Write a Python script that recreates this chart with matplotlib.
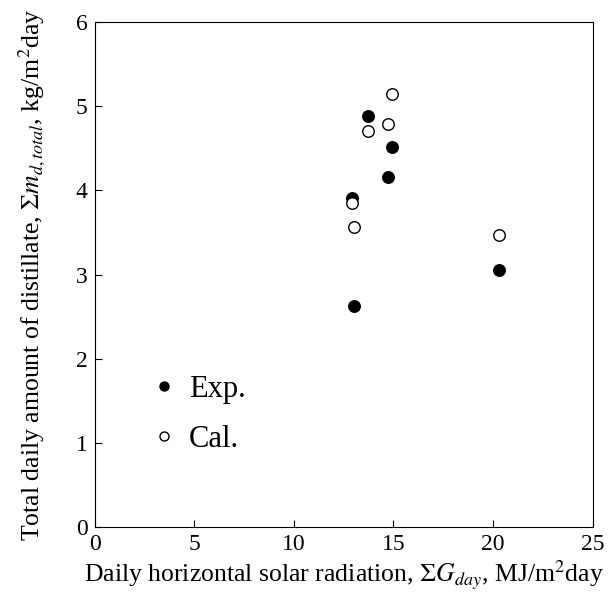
import matplotlib
matplotlib.use('Agg')
import matplotlib.pyplot as plt

plt.rcParams['font.family'] = ['Liberation Serif', 'DejaVu Serif']
plt.rcParams['mathtext.fontset'] = 'stix'

# experimental values
exp_x = [13.72, 14.94, 14.74, 12.92, 13.0, 20.28]
exp_y = [4.88, 4.51, 4.16, 3.91, 2.63, 3.05]
# calculated values
cal_x = [14.91, 14.71, 13.72, 12.92, 13.0, 20.28]
cal_y = [5.15, 4.79, 4.71, 3.85, 3.56, 3.47]

fig = plt.figure(figsize=(6.09, 5.96), dpi=100)
ax = fig.add_axes([0.1555, 0.1158, 0.8175, 0.8472])

ax.plot(exp_x, exp_y, 'o', color='black', markersize=8.3, label='Exp.')
ax.plot(cal_x, cal_y, 'o', markerfacecolor='white', markeredgecolor='black',
        markeredgewidth=1.0, markersize=8.3, label='Cal.')

ax.set_xlim(0, 25)
ax.set_ylim(0, 6)
ax.set_xticks([0, 5, 10, 15, 20, 25])
ax.set_yticks([0, 1, 2, 3, 4, 5, 6])
ax.tick_params(direction='in', length=5, labelsize=17, pad=5, width=0.8)

ax.set_xlabel(r'Daily horizontal solar radiation, $\Sigma G_{day}$, MJ/m$^2$day',
              fontsize=18.5, labelpad=3)
ax.set_ylabel(r'Total daily amount of distillate, $\Sigma m_{d,total}$, kg/m$^2$day',
              fontsize=18.5, labelpad=20)

ax.legend(frameon=False, loc='lower left', bbox_to_anchor=(0.045, 0.09), fontsize=22,
          markerscale=0.78, handletextpad=0.15, labelspacing=0.7, handlelength=1.3)

fig.savefig('out.png', dpi=100)
